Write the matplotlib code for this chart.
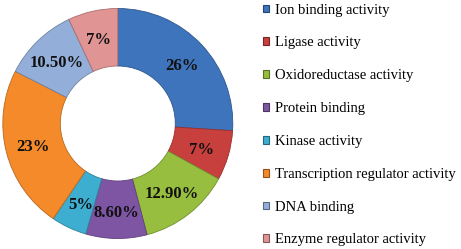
import numpy as np
import matplotlib
matplotlib.use("Agg")
import matplotlib.pyplot as plt
from matplotlib.patches import Patch
from matplotlib import colors as mcolors

# ---- data ----
categories = ["Ion binding activity", "Ligase activity", "Oxidoreductase activity",
              "Protein binding", "Kinase activity", "Transcription regulator activity",
              "DNA binding", "Enzyme regulator activity"]
shares = [26, 7, 12.9, 8.6, 5, 23, 10.5, 7]
pct_labels = ["26%", "7%", "12.90%", "8.60%", "5%", "23%", "10.50%", "7%"]
palette = ["#3E74BC", "#C8403E", "#97BE3E", "#7E55A3",
           "#3DADD0", "#F48A2A", "#93AED9", "#E09494"]

plt.rcParams['font.family'] = ['Liberation Serif', 'DejaVu Serif']

def darker(c, f=0.7):
    r, g, b = mcolors.to_rgb(c)
    return (r * f, g * f, b * f)

fig = plt.figure(figsize=(4.61, 2.49), dpi=100)
cx, cy, r = 117.8, 123.5, 115.0
ax = fig.add_axes([(cx - r) / 461, (249 - cy - r) / 249, 2 * r / 461, 2 * r / 249])

wedges, texts = ax.pie(shares, colors=palette, startangle=90, counterclock=False,
                       radius=1.0, wedgeprops=dict(width=0.5, linewidth=0.6))
for w, c in zip(wedges, palette):
    w.set_edgecolor(darker(c, 0.75))

for w, lab in zip(wedges, pct_labels):
    ang = np.deg2rad((w.theta1 + w.theta2) / 2)
    ax.text(0.76 * np.cos(ang), 0.76 * np.sin(ang), lab, ha="center",
            va="center_baseline", fontsize=12, fontweight="bold", color="#111")

ax.set_xlim(-1, 1)
ax.set_ylim(-1, 1)
ax.set_aspect("auto")

handles = [Patch(facecolor=c, edgecolor=darker(c, 0.6), linewidth=0.8) for c in palette]
fig.legend(handles, categories, loc="upper left", bbox_to_anchor=(0.562, 1.0),
           frameon=False, fontsize=10.5, labelspacing=1.36, handlelength=0.45,
           handleheight=0.45, handletextpad=0.4, borderpad=0.25, borderaxespad=0)

fig.savefig("out.png", dpi=100)
